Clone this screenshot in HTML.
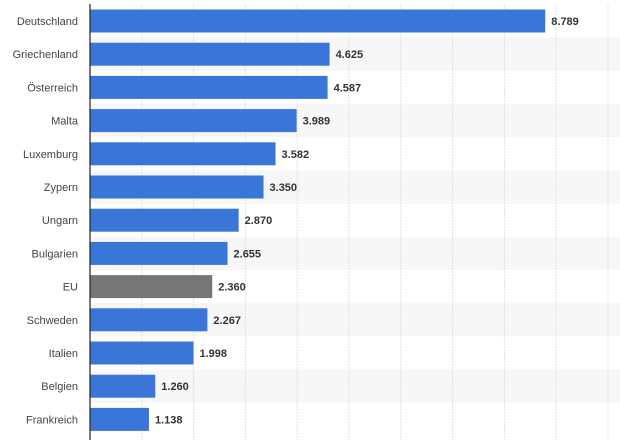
<!DOCTYPE html><html><head><style>body{margin:0;background:#fff}</style></head><body>
<svg width="620" height="440" xmlns="http://www.w3.org/2000/svg" font-family="Liberation Sans, sans-serif" font-size="11">
<g id="bands" fill="#f7f7f7"></g>
<g id="grid" stroke="#e0e0e0" stroke-dasharray="2,1"></g>
<g id="bars"></g>
<line x1="90" y1="4" x2="90" y2="440" stroke="#222" stroke-width="1.2"/>
<script>
var d=[["Deutschland",8.789],["Griechenland",4.625],["Österreich",4.587],["Malta",3.989],["Luxemburg",3.582],["Zypern",3.350],["Ungarn",2.870],["Bulgarien",2.655],["EU",2.360],["Schweden",2.267],["Italien",1.998],["Belgien",1.260],["Frankreich",1.138]];
var ns="http://www.w3.org/2000/svg";
function el(p,t,a,tx){var e=document.createElementNS(ns,t);for(var k in a)e.setAttribute(k,a[k]);if(tx)e.textContent=tx;document.getElementById(p).appendChild(e);}
var s=51.8;
d.forEach(function(r,i){var c=21+33.2*i;
if(i%2==1)el("bands","rect",{x:90,y:c-16.6,width:530,height:33.2});});
for(var k=1;k<=10;k++){var x=90+s*k;el("grid","line",{x1:x,y1:4,x2:x,y2:440});}
d.forEach(function(r,i){var c=21+33.2*i,w=r[1]*s;
el("bars","rect",{x:90,y:c-11.5,width:w,height:23,fill:r[0]=="EU"?"#767676":"#3a76d8"});
el("bars","text",{x:78,y:c+4,"text-anchor":"end",fill:"#444"},r[0]);
el("bars","text",{x:90+w+6,y:c+4,fill:"#333","font-weight":"bold"},r[1].toFixed(3));});
</script>
</svg></body></html>
